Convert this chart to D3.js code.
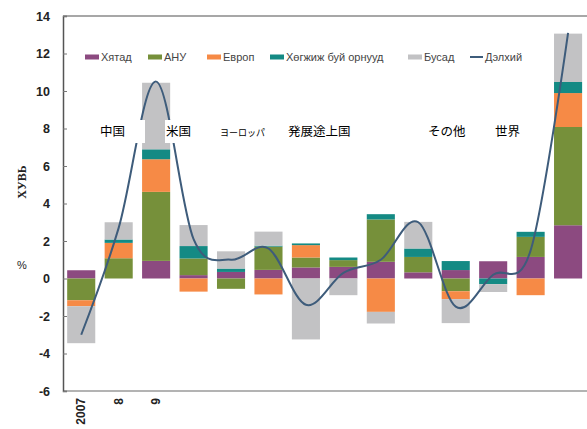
<!DOCTYPE html>
<html>
<head>
<meta charset="utf-8">
<script src="https://cdn.jsdelivr.net/npm/d3@7/dist/d3.min.js"></script>
<style>
  html, body { margin: 0; padding: 0; background: #fff; }
  svg { display: block; }
</style>
</head>
<body>
<svg id="chart" width="587" height="429"></svg>
<script>
// Contributions to world growth, percentage points
const years = ["2007", "8", "9", "10", "11", "12", "13", "14", "15", "16", "17", "18", "19", "20"];
const yearLabels = ["2007", "8", "9", "", "", "", "", "", "", "", "", "", "", ""];
const china      = [0.44, 0.00, 0.94, 0.18, 0.35, 0.46, 0.59, 0.62, 0.89, 0.33, 0.45, 0.92, 1.15, 2.84];
const usa        = [-1.16, 1.08, 3.68, 0.89, -0.55, 1.24, 0.53, 0.36, 2.26, 0.82, -0.68, 0.00, 1.07, 5.24];
const europe     = [-0.32, 0.82, 1.74, -0.70, 0.00, -0.85, 0.66, 0.00, -1.78, 0.00, -0.42, 0.00, -0.89, 1.81];
const developing = [0.00, 0.18, 0.53, 0.66, 0.18, 0.05, 0.09, 0.14, 0.28, 0.45, 0.48, -0.30, 0.27, 0.59];
const other      = [-1.97, 0.92, 3.55, 1.12, 0.92, 0.75, -3.25, -0.89, -0.62, 1.42, -1.28, -0.42, 0.00, 2.58];
const world      = [-3.0, 2.7, 10.5, 2.1, 1.0, 1.6, -1.4, 0.3, 1.0, 3.0, -1.5, 0.2, 1.5, 13.1];
const yTicks = [-6, -4, -2, 0, 2, 4, 6, 8, 10, 12, 14];

const seriesKeys  = ["china", "usa", "europe", "developing", "other"];
const seriesNames = ["Хятад", "АНУ", "Европ", "Хөгжиж буй орнууд", "Бусад"];
const worldName = "Дэлхий";
const regionNotes = ["中国", "米国", "ヨーロッパ", "発展途上国", "その他", "世界"];

const colors = {
  china: "#8c4a80",
  usa: "#76903a",
  europe: "#f68a46",
  developing: "#148a84",
  other: "#c2c2c4",
  world: "#3e5c7b"
};

const table = years.map((yr, i) => ({
  year: yr,
  china: china[i], usa: usa[i], europe: europe[i],
  developing: developing[i], other: other[i]
}));

const svg = d3.select("#chart");
const plotLeft = 63, plotRight = 587, plotTop = 16, plotBottom = 391;

const x = d3.scaleBand()
  .domain(years)
  .range([62.5, 586.8])
  .paddingInner(0.25)
  .paddingOuter(0.125);

const y = d3.scaleLinear().domain([-6, 14]).range([plotBottom, plotTop]);

// plot frame (top and bottom edges)
svg.append("line")
  .attr("x1", plotLeft).attr("x2", plotRight + 5)
  .attr("y1", plotTop).attr("y2", plotTop)
  .attr("stroke", "#8a8a8a").attr("stroke-width", 1.5);
svg.append("line")
  .attr("x1", plotLeft).attr("x2", plotRight + 5)
  .attr("y1", plotBottom).attr("y2", plotBottom)
  .attr("stroke", "#9a9a9a").attr("stroke-width", 1.5);

// stacked bars, positives up and negatives down
const stacked = d3.stack()
  .keys(seriesKeys)
  .offset(d3.stackOffsetDiverging)(table);

svg.append("g")
  .selectAll("g")
  .data(stacked)
  .join("g")
  .attr("fill", d => colors[d.key])
  .selectAll("rect")
  .data(d => d)
  .join("rect")
  .attr("x", d => x(d.data.year))
  .attr("width", x.bandwidth())
  .attr("y", d => y(Math.max(d[0], d[1])))
  .attr("height", d => Math.abs(y(d[0]) - y(d[1])));

// world growth line
const line = d3.line()
  .x((d, i) => x(years[i]) + x.bandwidth() / 2)
  .y(d => y(d))
  .curve(d3.curveCardinal.tension(0));

svg.append("path")
  .datum(world)
  .attr("fill", "none")
  .attr("stroke", colors.world)
  .attr("stroke-width", 2)
  .attr("d", line);

// y axis
const yAxis = d3.axisRight(y)
  .tickValues(yTicks)
  .tickSize(4)
  .tickFormat(d => String(d));
const yg = svg.append("g")
  .attr("transform", `translate(${plotLeft},0)`)
  .call(yAxis);
yg.select(".domain").attr("stroke", "#555").attr("stroke-width", 1.5);
yg.selectAll(".tick line").attr("stroke", "#777");
yg.selectAll(".tick text")
  .attr("x", -13)
  .attr("text-anchor", "end")
  .attr("font-family", "Liberation Sans, Arial, sans-serif")
  .attr("font-weight", "bold")
  .attr("font-size", 12.5)
  .attr("fill", "#222");

// x labels, rotated
const xg = svg.append("g");
years.forEach((yr, i) => {
  if (!yearLabels[i]) return;
  const cx = x(yr) + x.bandwidth() / 2;
  xg.append("text")
    .attr("transform", `translate(${cx + 4},${398}) rotate(-90)`)
    .attr("text-anchor", "end")
    .attr("font-family", "Liberation Sans, Arial, sans-serif")
    .attr("font-weight", "bold")
    .attr("font-size", 12)
    .attr("fill", "#222")
    .text(yearLabels[i]);
});

// axis titles
svg.append("text")
  .attr("transform", "translate(26,182) rotate(-90)")
  .attr("text-anchor", "middle")
  .attr("font-family", "Liberation Serif, Times New Roman, serif")
  .attr("font-weight", "bold")
  .attr("font-size", 12)
  .attr("fill", "#222")
  .text("ХУВЬ");
svg.append("text")
  .attr("x", 22).attr("y", 269)
  .attr("text-anchor", "middle")
  .attr("font-family", "Liberation Sans, Arial, sans-serif")
  .attr("font-size", 11)
  .attr("fill", "#222")
  .text("%");

// legend
const legendX = [85, 148, 207, 270, 408];
const legendY = 57;
const lg = svg.append("g")
  .attr("font-family", "Liberation Sans, Arial, sans-serif")
  .attr("font-size", 11)
  .attr("fill", "#444");
seriesKeys.forEach((k, i) => {
  lg.append("rect")
    .attr("x", legendX[i]).attr("y", legendY - 2.5)
    .attr("width", 14).attr("height", 5)
    .attr("fill", colors[k]);
  lg.append("text")
    .attr("x", legendX[i] + 16).attr("y", legendY + 4)
    .text(seriesNames[i]);
});
lg.append("line")
  .attr("x1", 470).attr("x2", 483)
  .attr("y1", legendY).attr("y2", legendY)
  .attr("stroke", colors.world).attr("stroke-width", 2);
lg.append("text")
  .attr("x", 485).attr("y", legendY + 4)
  .text(worldName);

// region notes on white boxes
const notePos = [
  { x: 100, box: [96, 145], size: 12.5 },
  { x: 166, box: [165, 205], size: 12.5 },
  { x: 220, box: [217, 270], size: 9 },
  { x: 288, box: [285, 360], size: 12.5 },
  { x: 428, box: [425, 470], size: 12.5 },
  { x: 495, box: [492, 525], size: 12.5 }
];
const ng = svg.append("g");
regionNotes.forEach((t, i) => {
  const p = notePos[i];
  ng.append("rect")
    .attr("x", p.box[0]).attr("y", 120)
    .attr("width", p.box[1] - p.box[0]).attr("height", 23)
    .attr("fill", "#fff");
  ng.append("text")
    .attr("x", p.x).attr("y", 136)
    .attr("font-family", "Noto Sans CJK JP, sans-serif")
    .attr("font-size", p.size)
    .attr("fill", "#000")
    .text(t);
});
</script>
</body>
</html>
